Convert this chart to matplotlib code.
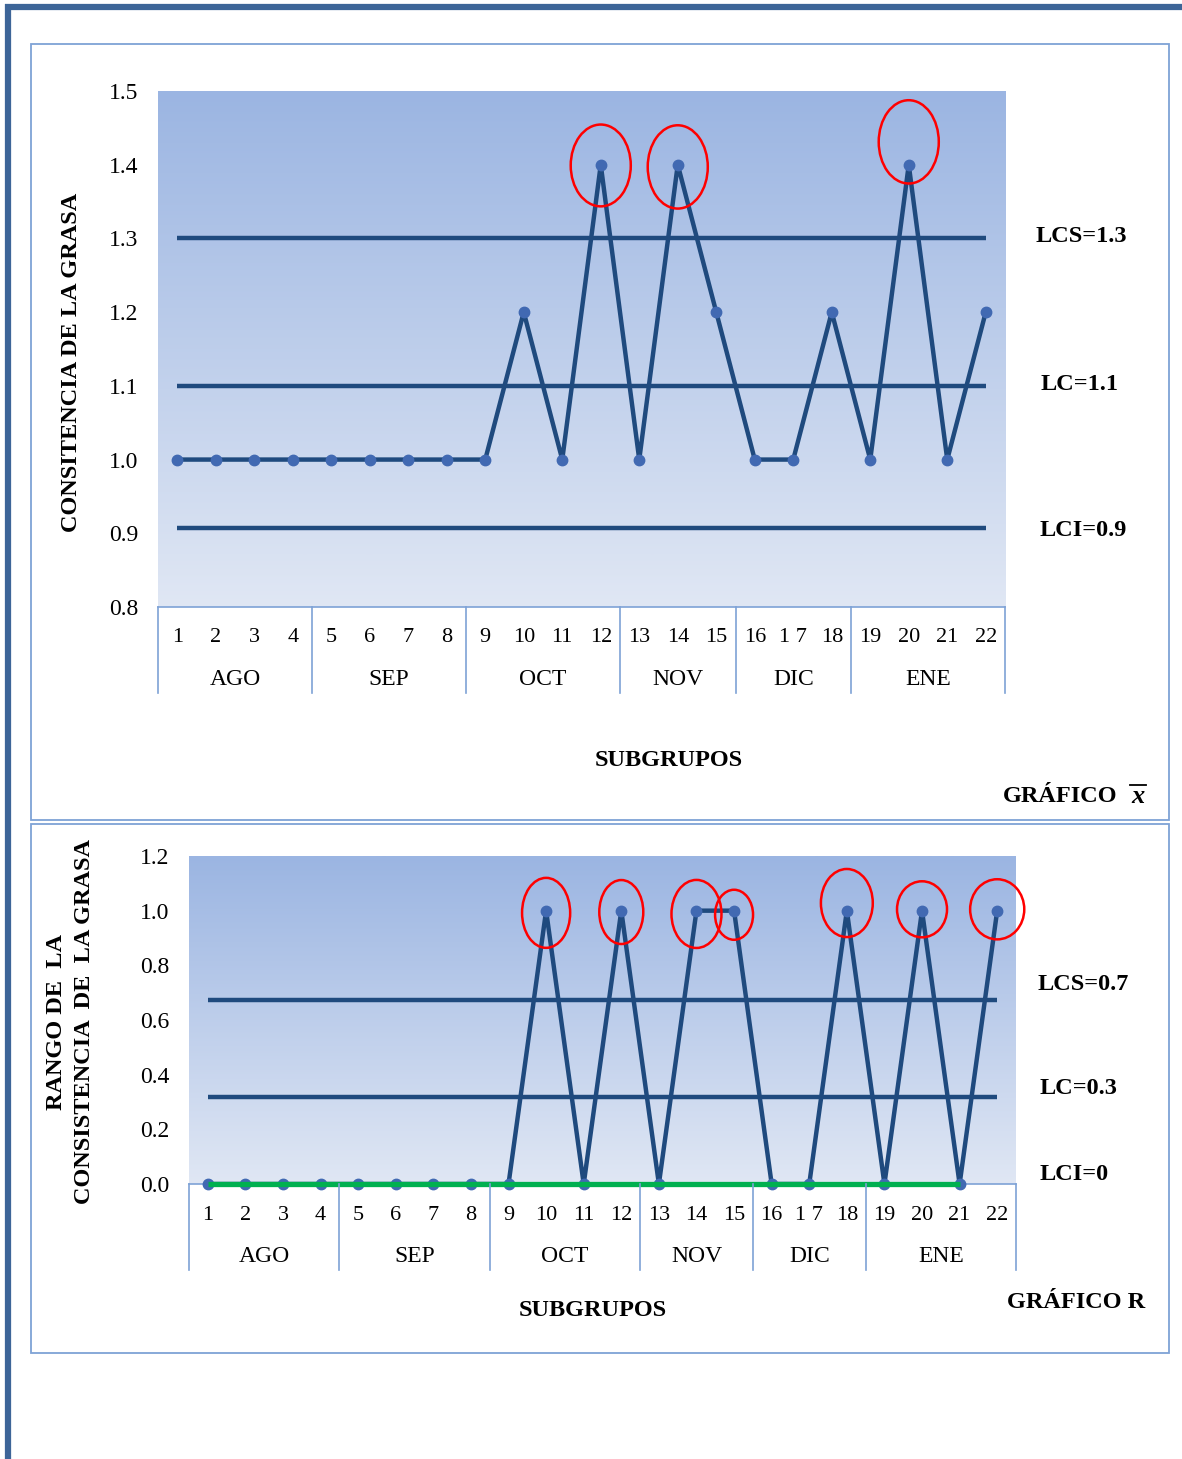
import numpy as np
import matplotlib
matplotlib.use("Agg")
import matplotlib.pyplot as plt
from matplotlib.patches import Ellipse, Rectangle
from matplotlib.lines import Line2D
from matplotlib.colors import LinearSegmentedColormap
import matplotlib.transforms as mtransforms

plt.rcParams['font.family'] = ['Liberation Serif', 'DejaVu Serif']

# ---------------- data ----------------
subgroup_labels = ["1", "2", "3", "4", "5", "6", "7", "8", "9", "10", "11",
                   "12", "13", "14", "15", "16", "1 7", "18", "19", "20", "21", "22"]
months = ["AGO", "SEP", "OCT", "NOV", "DIC", "ENE"]
month_sizes = [4, 4, 4, 3, 3, 4]

xbar_values = [1.0, 1.0, 1.0, 1.0, 1.0, 1.0, 1.0, 1.0, 1.0, 1.2, 1.0,
               1.4, 1.0, 1.4, 1.2, 1.0, 1.0, 1.2, 1.0, 1.4, 1.0, 1.2]
xbar_lcs = 1.3
xbar_lc = 1.1
xbar_lci = 0.907
xbar_limit_labels = ["LCS=1.3", "LC=1.1", "LCI=0.9"]
xbar_yticks = [0.8, 0.9, 1.0, 1.1, 1.2, 1.3, 1.4, 1.5]
xbar_flagged = [12, 14, 20]

r_values = [0, 0, 0, 0, 0, 0, 0, 0, 0, 1, 0,
            1, 0, 1, 1, 0, 0, 1, 0, 1, 0, 1]
r_lcs = 0.673
r_lc = 0.318
r_lci = 0.0
r_limit_labels = ["LCS=0.7", "LC=0.3", "LCI=0"]
r_yticks = [0.0, 0.2, 0.4, 0.6, 0.8, 1.0, 1.2]
r_flagged = [10, 12, 14, 15, 18, 20, 22]

# ---------------- style ----------------
W, H = 1182, 1459
LINE_C = '#1F4A7E'
MARK_C = '#4169B2'
BOX_C = '#7EA2D6'
PAGE_C = '#3D6598'
grad = LinearSegmentedColormap.from_list('g', ['#E0E7F4', '#9BB5E2'])
FS_TICK = 17
FS_NUM = 16
FS_MONTH = 17
FS_BOLD = 17.5

fig = plt.figure(figsize=(W / 100, H / 100), dpi=100)


def fy(px):
    return 1 - px / H


def fx(px):
    return px / W


# page border
fig.add_artist(Line2D([fx(5), fx(1182)], [fy(6.5), fy(6.5)], color=PAGE_C, lw=4.5,
                      transform=fig.transFigure, solid_capstyle='butt'))
fig.add_artist(Line2D([fx(8), fx(8)], [fy(4), fy(1459)], color=PAGE_C, lw=4.5,
                      transform=fig.transFigure, solid_capstyle='butt'))
# boxes
for (x0, y0, x1, y1) in [(31, 44, 1169, 820), (31, 824, 1169, 1353)]:
    fig.add_artist(Rectangle((fx(x0), fy(y1)), fx(x1) - fx(x0), fy(y0) - fy(y1),
                             fill=False, edgecolor=BOX_C, lw=1.3,
                             transform=fig.transFigure))


def make_chart(rect_px, values, lcs, lc, lci, yticks, ylim, ell_specs,
               green_lci=False):
    x0, y0, x1, y1 = rect_px
    ax = fig.add_axes([fx(x0), fy(y1), fx(x1) - fx(x0), fy(y0) - fy(y1)])
    n = len(values)
    x = np.arange(1, n + 1)
    ax.set_xlim(0.5, n + 0.5)
    ax.set_ylim(*ylim)
    ax.imshow(np.linspace(0, 1, 256).reshape(-1, 1), cmap=grad, origin='lower',
              aspect='auto', extent=[0.5, n + 0.5, ylim[0], ylim[1]], zorder=0)
    for s in ['top', 'left', 'right']:
        ax.spines[s].set_visible(False)
    ax.spines['bottom'].set_color(BOX_C)
    ax.spines['bottom'].set_linewidth(1.2)
    ax.set_xticks([])
    ax.set_yticks(yticks)
    ax.set_yticklabels([f"{v:.1f}" for v in yticks], fontsize=FS_TICK)
    ax.tick_params(axis='y', length=0, pad=14)
    for lv in (lcs, lc):
        ax.plot([1, n], [lv, lv], color=LINE_C, lw=3.2, zorder=2, solid_capstyle='butt')
    if not green_lci:
        ax.plot([1, n], [lci, lci], color=LINE_C, lw=3.2, zorder=2, solid_capstyle='butt')
    ax.plot(x, values, color=LINE_C, lw=3.2, zorder=3, clip_on=False)
    ax.plot(x, values, 'o', color=MARK_C, ms=7.5, zorder=4, clip_on=False)
    if green_lci:
        ax.plot([1, n - 1], [lci, lci], color='#00B050', lw=3.8, zorder=5, clip_on=False,
                solid_capstyle='butt')
    for (idx, dy, w, h) in ell_specs:
        ax.add_patch(Ellipse((idx, values[idx - 1] + dy), w, h, fill=False,
                             edgecolor='#FF0000', lw=1.8, zorder=6, clip_on=False))
    return ax


def category_axis(ax, y_axis_px, labels, months, sizes):
    trans = mtransforms.blended_transform_factory(ax.transData, fig.transFigure)
    for i, lab in enumerate(labels):
        fig.text(i + 1, fy(y_axis_px + 31), lab, transform=trans, ha='center',
                 va='center', fontsize=FS_NUM)
    start = 0.5
    bounds = [start]
    for m, s in zip(months, sizes):
        fig.text(start + s / 2, fy(y_axis_px + 72), m, transform=trans, ha='center',
                 va='center', fontsize=FS_MONTH)
        start += s
        bounds.append(start)
    for b in bounds:
        fig.add_artist(Line2D([b, b], [fy(y_axis_px), fy(y_axis_px + 86)], color=BOX_C,
                              lw=1.2, transform=trans))


def btext(xp, yp, s, ha='center', rotation=0):
    return fig.text(fx(xp), fy(yp), s, ha=ha, va='center', fontsize=FS_BOLD,
                    fontweight='bold', rotation=rotation)


# ---- top chart (X-bar) ----
ax1 = make_chart((158, 91, 1005, 607), xbar_values, xbar_lcs, xbar_lc, xbar_lci,
                 xbar_yticks, (0.8, 1.5),
                 [(12, -0.001, 1.56, 0.111), (14, -0.003, 1.56, 0.113),
                  (20, 0.031, 1.56, 0.113)])
category_axis(ax1, 607, subgroup_labels, months, month_sizes)
btext(72, 362, "CONSITENCIA DE LA GRASA", rotation=90)
for lab, xp, yp in zip(xbar_limit_labels, [1081, 1080, 1083], [237, 384, 531]):
    btext(xp, yp, lab)
btext(669, 761, "SUBGRUPOS")
btext(1117, 796, "GRÁFICO", ha='right')
fig.text(fx(1138), fy(796), "x", ha='center', va='center', fontsize=19,
         fontweight='bold', fontstyle='italic')
fig.add_artist(Line2D([fx(1130), fx(1146)], [fy(785), fy(785)], color='black', lw=1.3,
                      transform=fig.transFigure))

# ---- bottom chart (R) ----
ax2 = make_chart((189, 856, 1016, 1184), r_values, r_lcs, r_lc, r_lci,
                 r_yticks, (0.0, 1.2),
                 [(10, -0.008, 1.28, 0.256), (12, -0.005, 1.17, 0.234),
                  (14, -0.012, 1.33, 0.249), (15, -0.015, 1.01, 0.183),
                  (18, 0.028, 1.38, 0.249), (20, 0.005, 1.33, 0.205),
                  (22, 0.005, 1.44, 0.220)],
                 green_lci=True)
category_axis(ax2, 1184, subgroup_labels, months, month_sizes)
btext(57, 1022, "RANGO DE  LA", rotation=90)
btext(85, 1022, "CONSISTENCIA  DE  LA GRASA", rotation=90)
for lab, xp, yp in zip(r_limit_labels, [1083, 1078, 1074], [985, 1089, 1174]):
    btext(xp, yp, lab)
btext(593, 1310, "SUBGRUPOS")
btext(1145, 1303, "GRÁFICO R", ha='right')

fig.savefig("out.png", dpi=100)
